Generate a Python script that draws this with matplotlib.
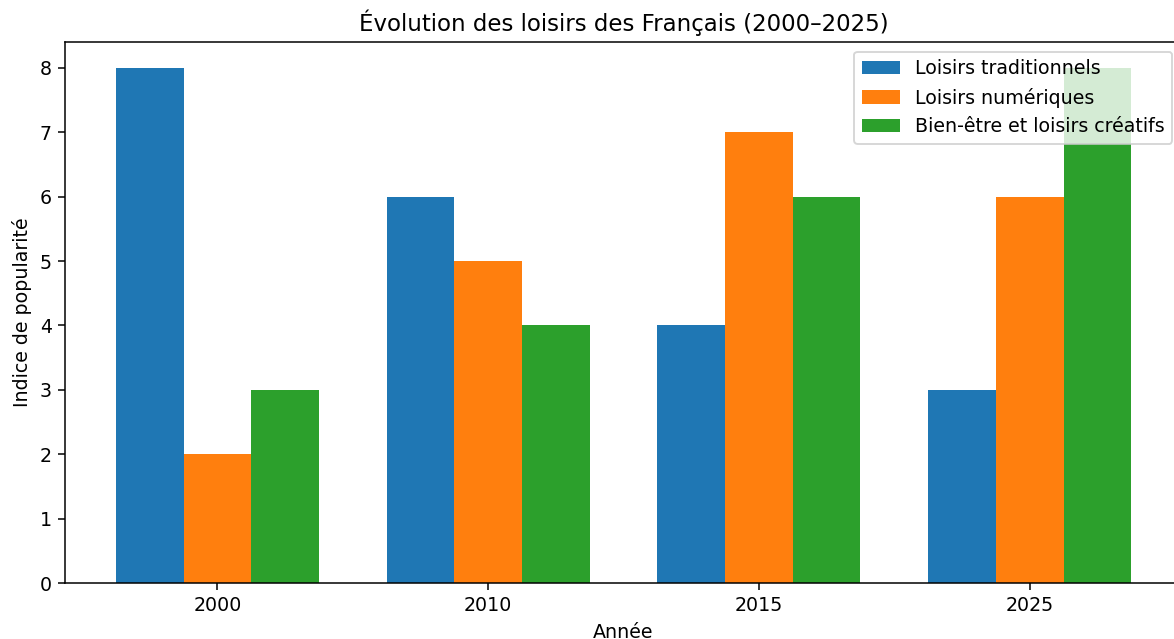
import matplotlib
matplotlib.use("Agg")
import matplotlib.pyplot as plt
import numpy as np

# Données
annees = ["2000", "2010", "2015", "2025"]
traditionnels = [8, 6, 4, 3]
numeriques = [2, 5, 7, 6]
bien_etre = [3, 4, 6, 8]

x = np.arange(len(annees))
largeur = 0.25

fig = plt.figure(figsize=(1174 / 137, 639 / 137), dpi=137)
ax = fig.add_axes([0.0554, 0.0876, 0.9514, 0.8466])

ax.bar(x - largeur, traditionnels, largeur, label="Loisirs traditionnels")
ax.bar(x, numeriques, largeur, label="Loisirs numériques")
ax.bar(x + largeur, bien_etre, largeur, label="Bien-être et loisirs créatifs")

ax.set_xticks(x)
ax.set_xticklabels(annees)
ax.set_xlabel("Année")
ax.set_ylabel("Indice de popularité")
ax.set_title("Évolution des loisirs des Français (2000–2025)")
ax.legend(loc="upper right")

fig.savefig("out.png", dpi=137)
